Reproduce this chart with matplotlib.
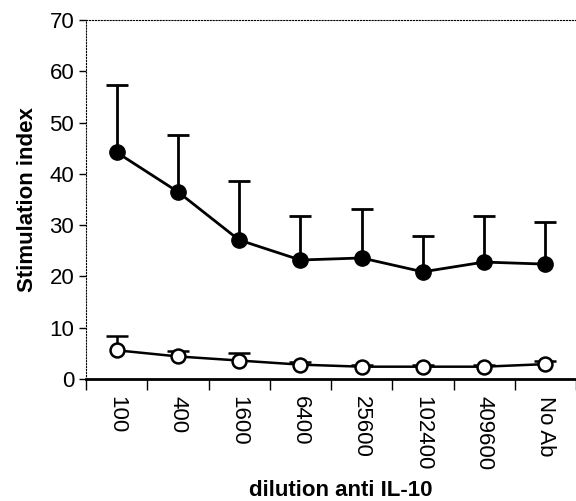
import matplotlib.pyplot as plt
import numpy as np

plt.rcParams['font.family'] = ['Liberation Sans', 'DejaVu Sans']

dilutions = ['100', '400', '1600', '6400', '25600', '102400', '409600', 'No Ab']
filled_mean = [44.2, 36.5, 27.1, 23.2, 23.6, 20.9, 22.8, 22.4]
filled_err = [13.2, 11.1, 11.6, 8.6, 9.5, 7.0, 9.0, 8.2]
open_mean = [5.6, 4.4, 3.6, 2.8, 2.4, 2.4, 2.4, 2.9]
open_err = [2.7, 1.1, 1.5, 0.6, 0.4, 0.3, 0.3, 0.6]

x = np.arange(len(dilutions))
zeros = np.zeros(len(x))

fig = plt.figure(figsize=(5.76, 5.01), dpi=100)
ax = fig.add_axes([86 / 576, 1 - 379 / 501, 490 / 576, 359 / 501])

_, caps, _ = ax.errorbar(x, filled_mean, yerr=[zeros, filled_err], color='black',
                         marker='o', markersize=11, markerfacecolor='black',
                         linewidth=2, elinewidth=2, capsize=8, capthick=2, zorder=3)
caps[0].set_visible(False)
_, caps, _ = ax.errorbar(x, open_mean, yerr=[zeros, open_err], color='black',
                         marker='o', markersize=10, markerfacecolor='white',
                         markeredgewidth=1.8, linewidth=1.8, elinewidth=1.8,
                         capsize=8, capthick=1.8, zorder=3)
caps[0].set_visible(False)

ax.set_xlim(-0.5, len(x) - 0.5)
ax.set_ylim(0, 70)
ax.set_yticks(range(0, 71, 10))
ax.tick_params(axis='y', labelsize=16, direction='out', length=5, width=1)

ax.set_xticks(x)
ax.set_xticklabels(dilutions, rotation=270, fontsize=16)
ax.tick_params(axis='x', length=0, pad=12)
ax.set_xticks(np.arange(-0.5, len(x) + 0.5, 1), minor=True)
ax.tick_params(axis='x', which='minor', length=8, width=1, direction='out')

ax.spines['right'].set_visible(False)
ax.spines['top'].set_linewidth(0.8)
ax.spines['top'].set_linestyle(':')
ax.spines['left'].set_linewidth(0.8)
ax.spines['left'].set_linestyle(':')
ax.spines['bottom'].set_linewidth(2)

ax.set_ylabel('Stimulation index', fontsize=16, fontweight='bold', labelpad=8)
ax.set_xlabel('dilution anti IL-10', fontsize=16, fontweight='bold', va='center')
ax.xaxis.set_label_coords(0.52, -0.31)

fig.savefig('out.png', dpi=100)
